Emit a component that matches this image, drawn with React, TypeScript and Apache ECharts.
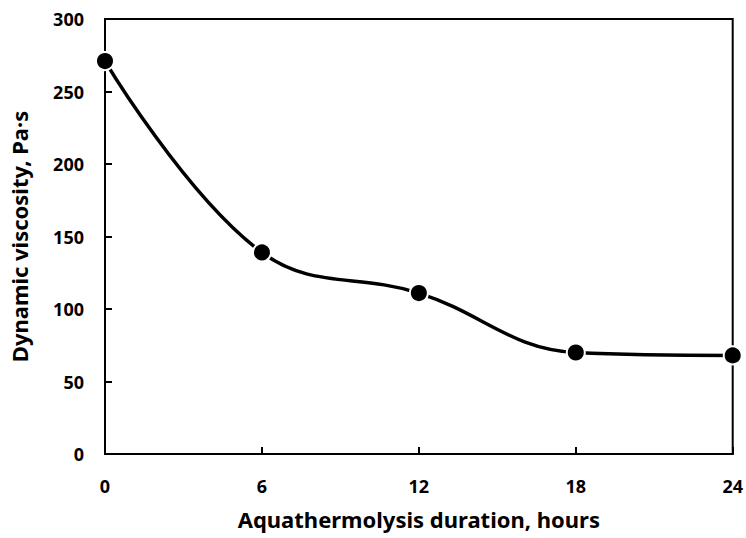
import React, { useEffect, useRef } from "react";
import * as echarts from "echarts";

const hours = [0, 6, 12, 18, 24];
const viscosity = [271, 139, 111, 70, 68];
const xTicks = [0, 6, 12, 18, 24];
const yTicks = [0, 50, 100, 150, 200, 250, 300];

const FONT = "'Noto Sans', 'Open Sans', sans-serif";

export default function App() {
  const ref = useRef<HTMLDivElement>(null);
  useEffect(() => {
    if (!ref.current) return;
    const chart = echarts.init(ref.current, null, { renderer: "svg" });
    chart.setOption({
      animation: false,
      backgroundColor: "#fff",
      grid: {
        left: 105,
        right: 12,
        top: 19,
        bottom: 84,
        show: true,
        borderColor: "#000",
        borderWidth: 2,
      },
      xAxis: {
        type: "value",
        min: xTicks[0],
        max: xTicks[xTicks.length - 1],
        interval: 6,
        name: "Aquathermolysis duration, hours",
        nameLocation: "middle",
        nameGap: 54,
        nameTextStyle: { fontFamily: FONT, fontWeight: "bold", fontSize: 22, color: "#000" },
        axisLine: { lineStyle: { color: "#000", width: 2 } },
        axisTick: { inside: true, length: 7, lineStyle: { color: "#000", width: 2 } },
        axisLabel: { fontFamily: FONT, fontWeight: "bold", fontSize: 18, color: "#000", margin: 23 },
        splitLine: { show: false },
      },
      yAxis: {
        type: "value",
        min: yTicks[0],
        max: yTicks[yTicks.length - 1],
        interval: 50,
        name: "Dynamic viscosity, Pa·s",
        nameLocation: "middle",
        nameGap: 75,
        nameTextStyle: { fontFamily: FONT, fontWeight: "bold", fontSize: 22, color: "#000" },
        axisLine: { show: true, lineStyle: { color: "#000", width: 2 } },
        axisTick: { show: true, inside: true, length: 7, lineStyle: { color: "#000", width: 2 } },
        axisLabel: { fontFamily: FONT, fontWeight: "bold", fontSize: 18, color: "#000", margin: 21 },
        splitLine: { show: false },
      },
      series: [
        {
          type: "line",
          data: hours.map((h, i) => [h, viscosity[i]]),
          smooth: 0.4,
          symbol: "circle",
          symbolSize: 18,
          lineStyle: { color: "#000", width: 3.5 },
          itemStyle: { color: "#000", borderColor: "#fff", borderWidth: 2 },
          clip: false,
        },
      ],
    });
    return () => chart.dispose();
  }, []);
  return (
    <div
      ref={ref}
      style={{ position: "fixed", left: 0, top: 0, width: 746, height: 538 }}
    />
  );
}
